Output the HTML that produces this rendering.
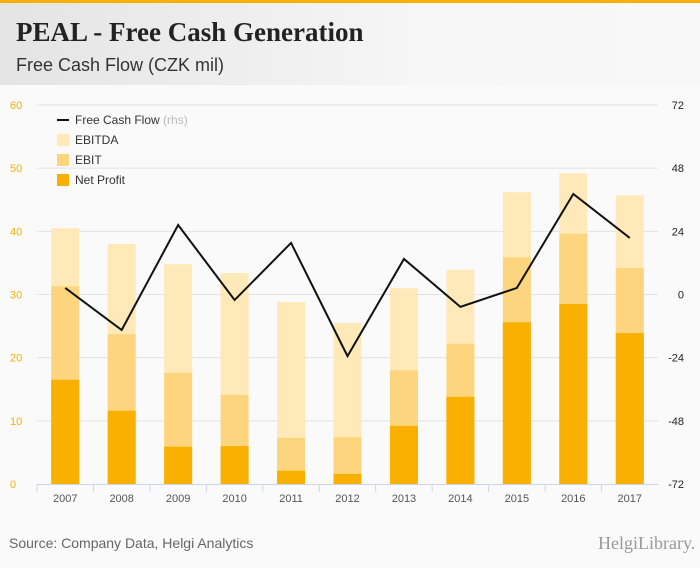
<!DOCTYPE html>
<html><head><meta charset="utf-8"><style>
body{margin:0;width:700px;height:568px;overflow:hidden;background:#fafafa;font-family:"Liberation Sans",sans-serif}
#hdr{position:absolute;left:0;top:0;width:700px;height:85px;background:linear-gradient(90deg,#e4e4e4,#f6f6f6 60%,#f8f8f8);border-top:3px solid #f9b000;box-sizing:border-box}
#title{position:absolute;left:16px;top:14px;font:bold 27px "Liberation Serif",serif;color:#222}
#sub{position:absolute;left:16px;top:52px;font:18px "Liberation Sans",sans-serif;color:#333}
#src{position:absolute;left:9px;top:535px;font:14px "Liberation Sans",sans-serif;color:#666}
#logo{position:absolute;left:598px;top:533px;font:18px "Liberation Serif",serif;color:#999}
</style></head><body>
<div id="hdr"><div id="title">PEAL - Free Cash Generation</div><div id="sub">Free Cash Flow (CZK mil)</div></div>
<svg id="c" width="700" height="568" style="position:absolute;left:0;top:0"></svg>
<div id="src">Source: Company Data, Helgi Analytics</div>
<div id="logo">HelgiLibrary.</div>
<script>
const years=["2007","2008","2009","2010","2011","2012","2013","2014","2015","2016","2017"];
const ebitda=[40.5,38,34.8,33.4,28.8,25.5,31,33.9,46.2,49.2,45.7];
const ebit=[31.3,23.7,17.6,14.1,7.3,7.4,18,22.2,35.9,39.6,34.2];
const netProfit=[16.5,11.6,5.9,6,2.1,1.6,9.2,13.8,25.6,28.5,23.9];
const fcf=[2.5,-13.5,26.4,-2.1,19.6,-23.4,13.5,-4.7,2.5,38.2,21.5];
const leftTicks=[0,10,20,30,40,50,60];
const rightTicks=[-72,-48,-24,0,24,48,72];
const NS="http://www.w3.org/2000/svg",svg=document.getElementById('c');
function mk(t,a,txt){const e=document.createElementNS(NS,t);for(const k in a)e.setAttribute(k,a[k]);if(txt!=null)e.textContent=txt;svg.appendChild(e);return e;}
const y0=484,y1=105,x0=37,x1=658,step=(x1-x0)/years.length;
const yL=v=>y0-(v/60)*(y0-y1);
const yR=v=>y0-((v+72)/144)*(y0-y1);
const xc=i=>x0+step*(i+0.5);
leftTicks.forEach(t=>{
 if(t>0){const g=mk('line',{x1:x0,x2:x1,y1:yL(t),y2:yL(t),stroke:'#e2e2e2'});}
 const l=mk('text',{x:10,y:yL(t)+4,'font-size':11,fill:'#f9b000'},t);
 
});
rightTicks.forEach(t=>{
 const l=mk('text',{x:684,y:yR(t)+4,'font-size':11,fill:'#222','text-anchor':'end'},t);
 
});
const bw=28;
years.forEach((yr,i)=>{
 [[ebitda,'#ffe9b8','bar-ebitda'],[ebit,'#fdd57e','bar-ebit'],[netProfit,'#f9b000','bar-net-profit']].forEach(([arr,c,n])=>{
  const r=mk('rect',{x:xc(i)-bw/2,y:yL(arr[i]),width:bw,height:y0-yL(arr[i]),fill:c});
  
 });
 const t=mk('text',{x:xc(i),y:502,'font-size':11,fill:'#555','text-anchor':'middle'},yr);
 
 const tk=mk('line',{x1:x0+step*i,x2:x0+step*i,y1:y0,y2:y0+8,stroke:'#ccd6eb'});
 
});
const ax=mk('line',{x1:x0,x2:x1,y1:y0+0.5,y2:y0+0.5,stroke:'#ccd6eb'});

const ln=mk('polyline',{points:fcf.map((v,i)=>xc(i)+','+yR(v)).join(' '),fill:'none',stroke:'#111','stroke-width':2});

const leg=[['line','#111','Free Cash Flow','legend-fcf'],['rect','#ffe9b8','EBITDA','legend-ebitda'],['rect','#fdd57e','EBIT','legend-ebit'],['rect','#f9b000','Net Profit','legend-net-profit']];
leg.forEach((l,i)=>{
 const y=120+i*20;
 if(l[0]=='line'){const s=mk('line',{x1:57,x2:69,y1:y,y2:y,stroke:'#111','stroke-width':2});}
 else{const s=mk('rect',{x:57,y:y-6,width:12,height:12,fill:l[1]});}
 const t=mk('text',{x:75,y:y+4,'font-size':12,fill:'#333'},l[2]);
 
 if(i==0){const r=document.createElementNS(NS,'tspan');r.setAttribute('fill','#bbb');r.textContent=' (rhs)';t.appendChild(r);}
});
</script>
</body></html>
